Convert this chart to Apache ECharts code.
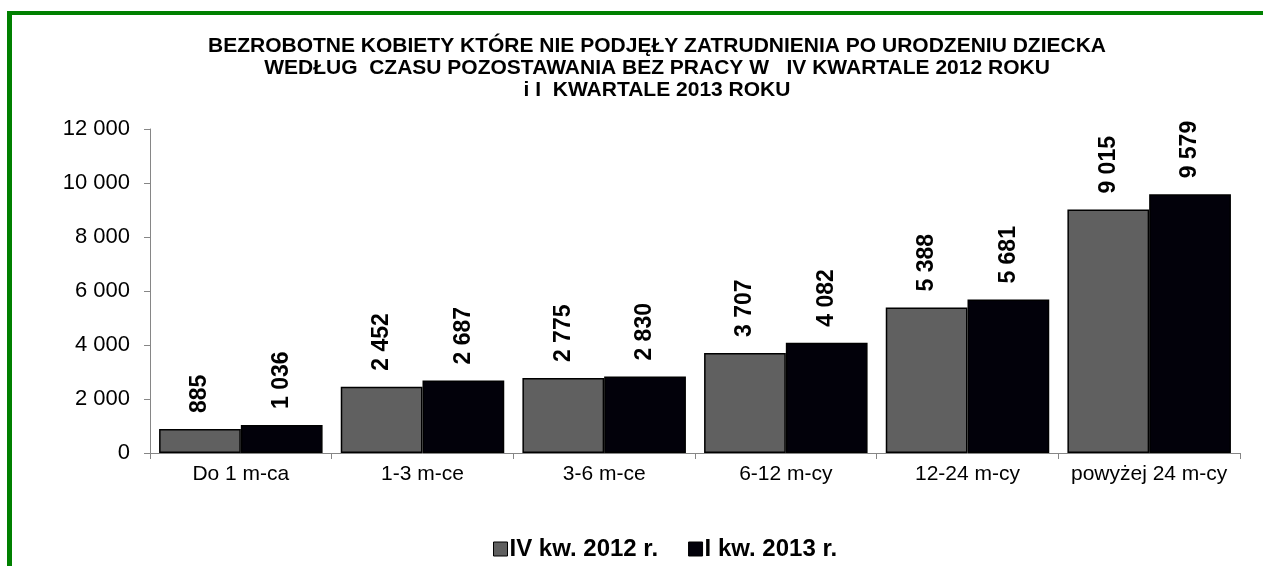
<!DOCTYPE html>
<html>
<head>
<meta charset="utf-8">
<script src="https://cdn.jsdelivr.net/npm/echarts@6/dist/echarts.min.js"></script>
<style>
  html, body { margin: 0; padding: 0; background: #fff; }
  #chart { width: 1263px; height: 566px; }
</style>
</head>
<body>
<div id="chart"></div>
<script>
// Czas pozostawania bez pracy
const categories = ['Do 1 m-ca', '1-3 m-ce', '3-6 m-ce', '6-12 m-cy', '12-24 m-cy', 'powyżej 24 m-cy'];
const seriesNames = ['IV kw. 2012 r.', 'I kw. 2013 r.'];
const q4_2012 = [885, 2452, 2775, 3707, 5388, 9015];
const q1_2013 = [1036, 2687, 2830, 4082, 5681, 9579];
const yTicks = { min: 0, max: 12000, interval: 2000 };
const titleText = 'BEZROBOTNE KOBIETY KTÓRE NIE PODJĘŁY ZATRUDNIENIA PO URODZENIU DZIECKA\nWEDŁUG  CZASU POZOSTAWANIA BEZ PRACY W   IV KWARTALE 2012 ROKU\ni I  KWARTALE 2013 ROKU';

const FONT = '"Liberation Sans", Arial, sans-serif';
const fmt = v => String(v).replace(/\B(?=(\d{3})+(?!\d))/g, ' ');

const chart = echarts.init(document.getElementById('chart'), null, { renderer: 'canvas' });

const labelStyle = {
  show: true,
  position: 'top',
  rotate: 90,
  align: 'left',
  verticalAlign: 'middle',
  distance: 16,
  fontFamily: FONT,
  fontWeight: 'bold',
  fontSize: 23,
  color: '#000',
  formatter: p => fmt(p.value)
};

chart.setOption({
  animation: false,
  backgroundColor: '#fff',
  graphic: [
    { type: 'rect', shape: { x: 7, y: 11, width: 1256, height: 4 }, style: { fill: '#008000' }, silent: true },
    { type: 'rect', shape: { x: 7, y: 11, width: 5, height: 555 }, style: { fill: '#008000' }, silent: true }
  ],
  title: {
    text: titleText,
    left: 652,
    textAlign: 'center',
    top: 30,
    textStyle: {
      fontFamily: FONT,
      fontWeight: 'bold',
      fontSize: 21,
      lineHeight: 22,
      color: '#000'
    }
  },
  legend: {
    data: seriesNames,
    left: 488,
    top: 532,
    itemWidth: 14,
    itemHeight: 14,
    itemGap: 30,
    icon: 'rect',
    itemStyle: { borderColor: '#000', borderWidth: 1 },
    textStyle: { fontFamily: FONT, fontWeight: 'bold', fontSize: 24, color: '#000', padding: [0, 0, 0, -3] }
  },
  grid: { left: 150, right: 23, top: 129, bottom: 113, containLabel: false },
  xAxis: {
    type: 'category',
    data: categories,
    axisLine: { lineStyle: { color: '#868686', width: 1 } },
    axisTick: { show: true, interval: 0, length: 6, lineStyle: { color: '#868686' } },
    axisLabel: { interval: 0, fontFamily: FONT, fontSize: 21, color: '#000', margin: 11 }
  },
  yAxis: {
    type: 'value',
    min: yTicks.min,
    max: yTicks.max,
    interval: yTicks.interval,
    splitLine: { show: false },
    axisLine: { show: true, lineStyle: { color: '#868686', width: 1 } },
    axisTick: { show: true, length: 6, lineStyle: { color: '#868686' } },
    axisLabel: { fontFamily: FONT, fontSize: 22, color: '#000', margin: 20, formatter: v => fmt(v) }
  },
  series: [
    {
      name: seriesNames[0],
      type: 'bar',
      data: q4_2012,
      barGap: '0%',
      barCategoryGap: '10%',
      itemStyle: { color: '#606060', borderColor: '#000', borderWidth: 1.5 },
      label: labelStyle
    },
    {
      name: seriesNames[1],
      type: 'bar',
      data: q1_2013,
      barGap: '0%',
      barCategoryGap: '10%',
      itemStyle: { color: '#02010a', borderColor: '#000', borderWidth: 1.5 },
      label: labelStyle
    }
  ]
});
</script>
</body>
</html>
